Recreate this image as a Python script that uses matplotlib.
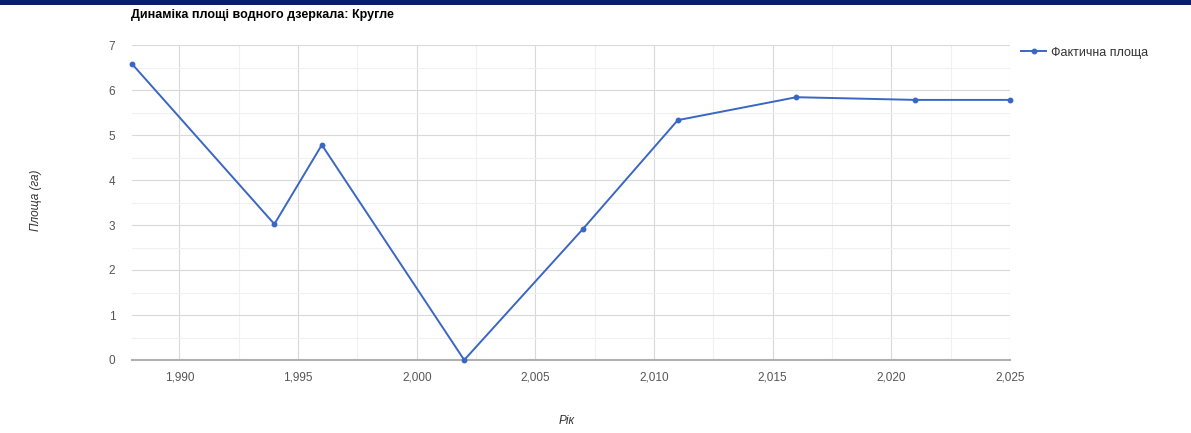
import matplotlib
matplotlib.use("Agg")
import matplotlib.pyplot as plt
from matplotlib.ticker import MultipleLocator, FuncFormatter
from matplotlib.patches import Rectangle

years = [1988, 1994, 1996, 2002, 2007, 2011, 2016, 2021, 2025]
area = [6.58, 3.02, 4.78, 0.0, 2.91, 5.33, 5.84, 5.78, 5.78]
series_name = "Фактична площа"
title = "Динаміка площі водного дзеркала: Кругле"
xlabel = "Рік"
ylabel = "Площа (га)"

plt.rcParams['font.family'] = ['Liberation Sans', 'DejaVu Sans']

fig = plt.figure(figsize=(11.91, 4.33), dpi=100)
fig.patch.set_facecolor('white')
fig.add_artist(Rectangle((0, 1 - 5/433), 1, 5/433, transform=fig.transFigure,
                         facecolor='#0b1d6e', edgecolor='none'))

ax = fig.add_axes([132/1191, 1 - 360/433, (1010-132)/1191, (360-45)/433])
line_color = '#3a66c4'
ax.plot(years, area, color=line_color, lw=1.4, marker='o', ms=3.2,
        label=series_name, zorder=3, clip_on=False)

ax.set_xlim(1988, 2025)
ax.set_ylim(0, 7)
ax.xaxis.set_major_locator(MultipleLocator(5))
ax.xaxis.set_minor_locator(MultipleLocator(2.5))
ax.yaxis.set_major_locator(MultipleLocator(1))
ax.yaxis.set_minor_locator(MultipleLocator(0.5))
ax.xaxis.set_major_formatter(FuncFormatter(lambda v, p: f"{int(round(v)):,}"))
ax.grid(which='major', color='#d9d9d9', lw=0.8)
ax.grid(which='minor', color='#f0f0f0', lw=0.8)
ax.set_axisbelow(True)
for s in ['top', 'right', 'left']:
    ax.spines[s].set_visible(False)
ax.spines['bottom'].set_color('#b0b0b0')
ax.spines['bottom'].set_linewidth(1.5)
ax.tick_params(which='both', length=0, labelsize=8.5, labelcolor='#555555')
ax.tick_params(axis='y', pad=12)
ax.tick_params(axis='x', pad=8)

fig.text(567/1191, 1 - 421/433, xlabel, fontsize=8.5, style='italic',
         color='#333333', ha='center', va='center')
fig.text(36/1191, 1 - 200/433, ylabel, fontsize=8.5, style='italic',
         color='#333333', ha='center', va='center', rotation=90)

fig.text(131/1191, 1 - 15/433, title, fontsize=9, fontweight='bold',
         color='#000000', ha='left', va='center')

leg = ax.legend(loc='upper left', bbox_to_anchor=(1.0, 1.03), frameon=False,
                fontsize=9, handlelength=2.0, handletextpad=0.4,
                labelcolor='#333333')

fig.savefig("out.png", dpi=100)
